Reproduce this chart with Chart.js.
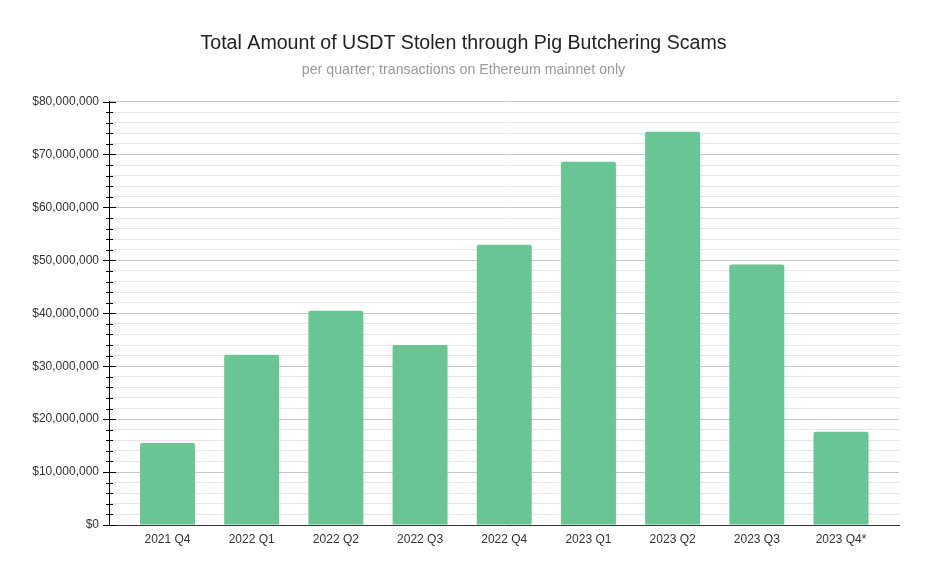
<!DOCTYPE html>
<html>
<head>
<meta charset="utf-8">
<script src="https://cdn.jsdelivr.net/npm/chart.js@4"></script>
<style>
  body { margin: 0; background: #fff; }
</style>
</head>
<body>
<canvas id="chart" width="927" height="574"></canvas>
<script>
// quarterly totals
const quarters = ['2021 Q4', '2022 Q1', '2022 Q2', '2022 Q3', '2022 Q4', '2023 Q1', '2023 Q2', '2023 Q3', '2023 Q4*'];
const amountsUsd = [15500000, 32150000, 40500000, 34000000, 52950000, 68650000, 74300000, 49200000, 17600000];
const yMax = 80000000;
const yStep = 2000000;
const yLabelStep = 10000000;

const font = 'Arial, "Liberation Sans", sans-serif';

// black marks crossing the y axis at every 2M, longer ones at labelled values
const axisMarks = {
    id: 'axisMarks',
    afterDraw(chart) {
        const y = chart.scales.y;
        const ctx = chart.ctx;
        const x0 = chart.chartArea.left;
        ctx.save();
        ctx.strokeStyle = '#000';
        ctx.lineWidth = 1;
        for (let v = 0; v <= yMax; v += yStep) {
            const py = Math.round(y.getPixelForValue(v)) + 0.5;
            const major = v % yLabelStep === 0;
            ctx.beginPath();
            ctx.moveTo(x0 - (major ? 6 : 3), py);
            ctx.lineTo(x0 + (major ? 7 : 4), py);
            ctx.stroke();
        }
        ctx.restore();
    }
};

new Chart(document.getElementById('chart'), {
    type: 'bar',
    data: {
        datasets: [{
            data: quarters.map((q, i) => ({ x: i, y: amountsUsd[i] })),
            backgroundColor: '#69c594',
            borderRadius: 2,
            borderSkipped: 'bottom',
            barPercentage: 1,
            categoryPercentage: 0.653
        }]
    },
    options: {
        responsive: false,
        animation: false,
        // symmetric padding keeps the titles centred on the canvas
        layout: { padding: { left: 14, right: 14, top: 0, bottom: 0 } },
        plugins: {
            legend: { display: false },
            tooltip: { enabled: false },
            title: {
                display: true,
                text: 'Total Amount of USDT Stolen through Pig Butchering Scams',
                color: '#222',
                font: { family: font, size: 19.6, weight: 'normal' },
                padding: { top: 32, bottom: 4 }
            },
            subtitle: {
                display: true,
                text: 'per quarter; transactions on Ethereum mainnet only',
                color: '#999',
                font: { family: font, size: 14.2 },
                padding: { top: 2, bottom: 23 }
            }
        },
        scales: {
            x: {
                type: 'linear',
                offset: false,
                min: -0.695,
                max: 8.689,
                afterFit(scale) { scale.height = 49; },
                grid: { display: false, drawTicks: false, offset: false },
                border: { display: true, color: '#333' },
                ticks: {
                    stepSize: 1,
                    includeBounds: false,
                    autoSkip: false,
                    maxRotation: 0,
                    padding: 7,
                    color: '#333',
                    font: { family: font, size: 12 },
                    callback: v => Number.isInteger(v) ? (quarters[v] || '') : ''
                }
            },
            y: {
                min: 0,
                max: yMax,
                afterFit(scale) { scale.width = 95; },
                grid: {
                    drawTicks: false,
                    color: ctx => ctx.tick && ctx.tick.value % yLabelStep === 0 ? '#c8c8c8' : '#e6e6e6'
                },
                border: { display: true, color: '#000' },
                ticks: {
                    stepSize: yStep,
                    autoSkip: false,
                    padding: 10,
                    color: '#333',
                    font: { family: font, size: 12 },
                    callback: v => v % yLabelStep === 0 ? '$' + v.toLocaleString('en-US') : ''
                }
            },
            // empty right-hand axis, only reserves the right margin
            yRight: {
                position: 'right',
                min: 0,
                max: yMax,
                afterFit(scale) { scale.width = 14; },
                grid: { drawOnChartArea: false, drawTicks: false },
                border: { display: false },
                ticks: { display: false }
            }
        }
    },
    plugins: [axisMarks]
});
</script>
</body>
</html>
